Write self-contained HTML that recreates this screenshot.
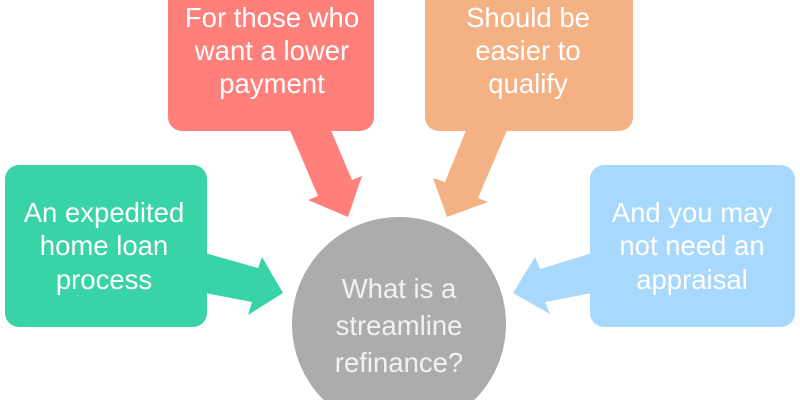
<!DOCTYPE html>
<html><head><style>html,body{margin:0;padding:0;background:#fff;width:800px;height:400px;overflow:hidden}svg{display:block}</style></head><body>
<svg width="800" height="400" viewBox="0 0 800 400" xmlns="http://www.w3.org/2000/svg" font-family="'Liberation Sans', sans-serif" font-size="27.5" fill="#fff" text-anchor="middle">
<path d="M168,0 H374 V117 A14,14 0 0 1 360,131 H182 A14,14 0 0 1 168,117 Z" fill="#ff7f7a"/>
<polygon points="289,128 330,128 352,180 362,176 348,217 308,200 318,196" fill="#ff7f7a"/>
<path d="M425,0 H633 V117 A14,14 0 0 1 619,131 H439 A14,14 0 0 1 425,117 Z" fill="#f4b183"/>
<polygon points="467,128 508,128 478,198 488,202 447,217 433,178 445,182" fill="#f4b183"/>
<rect x="5" y="165" width="202" height="162" rx="14" fill="#38d4a7"/>
<polygon points="205,253 258,268 262,257 283,293 248,315 252,302 205,293" fill="#38d4a7"/>
<rect x="590" y="165" width="205" height="162" rx="14" fill="#a9d8fd"/>
<polygon points="592,253 540,269 535,257 513,293 550,314 545,302 592,293" fill="#a9d8fd"/>
<path d="M323.7,400 A107,107 0 1 1 474.3,400 Z" fill="#acacac"/>
<g fill="#fff">
<text x="272" y="27">For those who</text><text x="272" y="60">want a lower</text><text x="272" y="93">payment</text>
<text x="528" y="27">Should be</text><text x="528" y="60">easier to</text><text x="528" y="93">qualify</text>
<text x="104" y="222">An expedited</text><text x="104" y="255">home loan</text><text x="104" y="289">process</text>
<text x="692" y="222">And you may</text><text x="692" y="255">not need an</text><text x="692" y="289">appraisal</text>
<text x="399" y="298" fill="#f2f2f2">What is a</text><text x="399" y="335" fill="#f2f2f2">streamline</text><text x="399" y="372" fill="#f2f2f2">refinance?</text>
</g>
</svg>
</body></html>
